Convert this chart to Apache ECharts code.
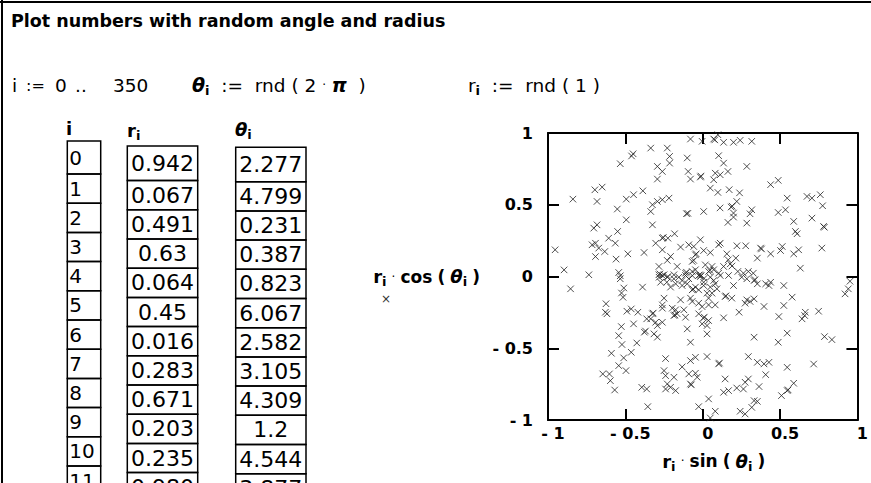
<!DOCTYPE html>
<html><head><meta charset="utf-8">
<script src="https://cdn.jsdelivr.net/npm/echarts/dist/echarts.min.js"></script>
<style>html,body{margin:0;padding:0;background:#fff;overflow:hidden}#c{width:871px;height:483px}</style>
</head><body><div id="c"></div>
<script>
// ---- data ----
const titleText = 'Plot numbers with random angle and radius';
const indexLabels = ['0','1','2','3','4','5','6','7','8','9','10','11'];
const rValues = ['0.942','0.067','0.491','0.63','0.064','0.45','0.016','0.283','0.671','0.203','0.235','0.980'];
const thetaValues = ['2.277','4.799','0.231','0.387','0.823','6.067','2.582','3.105','4.309','1.2','4.544','3.877'];
const tickValues = [-1, -0.5, 0, 0.5, 1];
// x = r_i * sin(theta_i)
const sinVals = [
-0.45,-0.46,-0.533,-0.697,-0.65,-0.839,-0.683,-0.494,-0.447,-0.387,-0.552,-0.494,-0.704,-0.683,-0.55,-0.608,-0.565,-0.715,-0.693,-0.672,-0.633,-0.693,-0.56,-0.484,-0.379,-0.954,-0.896,-0.736,-0.543,-0.533,-0.533,
-0.079,-0.004,0.071,0.078,0.098,0.135,0.199,0.242,0.317,
-0.336,-0.229,-0.214,-0.1,0.103,0.135,0.285,
-0.293,-0.261,-0.214,-0.293,-0.094,-0.079,-0.015,-0.012,0.081,0.113,0.163,0.071,0.049,0.098,0.171,0.238,
-0.325,-0.293,-0.261,-0.218,-0.336,-0.096,-0.105,0.006,0.112,0.184,0.19,0.22,0.199,0.199,0.306,0.317,
-0.325,0.163,0.285,
-0.261,-0.255,-0.304,-0.225,-0.182,-0.261,-0.143,-0.09,-0.058,-0.015,
-0.208,-0.229,-0.047,-0.042,-0.068,-0.058,0.006,0.049,0.103,0.113,0.156,0.221,0.278,0.165,0.214,
-0.283,-0.283,-0.277,-0.25,-0.186,-0.165,-0.111,-0.105,-0.068,-0.047,-0.015,-0.01,0.047,0.017,0.038,0.06,0.071,0.103,0.135,0.189,0.178,0.227,0.263,0.295,0.327,
0.439,0.488,0.546,0.674,0.706,0.76,0.775,0.488,0.535,0.588,0.599,0.61,0.706,0.781,0.786,0.374,0.38,0.353,0.439,0.503,0.514,0.588,0.62,0.77,0.631,
-0.854,-0.51,-0.525,-0.515,-0.389,-0.625,-0.629,-0.619,-0.49,-0.462,-0.419,-0.362,-0.447,-0.526,-0.377,-0.37,-0.543,-0.426,-0.522,-0.462,-0.59,-0.511,-0.543,-0.496,-0.646,-0.603,-0.597,-0.569,-0.394,-0.362,-0.355,
-0.282,-0.261,-0.229,-0.225,-0.186,-0.154,-0.133,-0.111,-0.09,-0.067,-0.026,-0.02,0.0085,0.006,0.049,0.071,0.113,0.167,0.252,0.285,
-0.272,-0.232,-0.208,-0.175,-0.133,-0.1,-0.068,-0.062,-0.047,-0.026,0.006,0.028,0.049,0.081,0.092,0.145,0.15,0.188,0.199,0.285,0.306,0.274,
-0.25,-0.261,-0.261,-0.197,-0.175,-0.143,-0.122,-0.079,-0.068,-0.026,-0.004,0.038,0.06,0.038,0.081,
-0.325,-0.32,-0.336,-0.304,-0.293,-0.261,-0.315,-0.293,-0.186,-0.18,-0.165,-0.111,-0.026,0.010,0.004,-0.004,0.028,0.038,0.135,0.235,-0.1,0.028,-0.079,
-0.24,-0.079,-0.047,0.028,0.103,0.108,0.295,-0.133,-0.25,-0.24,-0.186,-0.09,-0.047,-0.036,-0.229,-0.24,-0.208,-0.175,-0.079,-0.074,0.145,0.135,0.167,0.22,0.263,0.274,0.295,0.038,-0.026,0.049,0.081,0.242,0.274,0.317,
0.332,0.338,0.353,0.407,0.428,0.439,0.524,0.578,0.524,0.396,0.492,0.642,0.659,0.663,0.749,0.332,0.546,0.488,0.787,0.835,0.952,0.941,0.92,0.332,0.353,0.396,0.428,0.407,0.546,0.717,0.364,0.332,0.353,0.509,0.546,0.552,0.588
];
// y = r_i * cos(theta_i)
const cosVals = [
0.855,0.84,0.786,0.604,0.623,0.539,0.523,0.539,0.57,0.597,0.47,0.395,0.337,0.36,0.314,0.267,0.232,0.221,0.232,0.198,0.174,0.139,0.121,0.158,0.167,0.186,0.046,0.012,0.028,0.005,-0.016,
0.958,0.942,0.958,0.952,0.988,0.935,0.935,0.949,0.942,
0.895,0.895,0.837,0.826,0.842,0.79,0.767,
0.767,0.732,0.79,0.679,0.732,0.679,0.693,0.7,0.72,0.709,0.732,0.674,0.616,0.586,0.605,0.583,
0.5,0.523,0.535,0.546,0.453,0.44,0.438,0.453,0.478,0.484,0.49,0.523,0.442,0.414,0.437,0.465,
0.36,0.377,0.372,
0.267,0.272,0.232,0.267,0.298,0.186,0.205,0.221,0.209,0.256,
0.14,0.112,0.151,0.158,0.105,0.112,0.181,0.167,0.221,0.232,0.158,0.214,0.214,0.116,0.128,
0.07,0.012,0.018,0.012,0.012,0.07,0.023,0.03,0.035,0.047,0,0.008,0.043,0.081,0.035,0.07,0.047,0.023,0.07,0.073,0.088,0.035,0.023,0.035,0.023,
0.64,0.67,0.546,0.558,0.546,0.57,0.493,0.446,0.465,0.384,0.314,0.298,0.407,0.349,0.343,0.198,0.192,0.128,0.158,0.181,0.209,0.158,0.186,0.198,0.058,
-0.086,-0.08,-0.115,-0.145,-0.074,-0.19,-0.249,-0.26,-0.242,-0.226,-0.249,-0.295,-0.33,-0.349,-0.388,-0.38,-0.412,-0.463,-0.474,-0.528,-0.535,-0.567,-0.621,-0.656,-0.679,-0.679,-0.726,-0.791,-0.772,-0.784,-0.907,
-0.005,0.007,-0.005,0.0,-0.016,-0.005,-0.028,0.007,-0.016,0.006,0.007,0.012,-0.0136,-0.04,-0.005,-0.028,0.007,0.007,-0.005,-0.016,
-0.04,-0.04,-0.074,-0.051,-0.063,-0.051,-0.093,-0.088,-0.074,-0.093,-0.063,-0.116,-0.074,-0.051,-0.086,-0.14,-0.135,-0.151,-0.063,-0.163,-0.174,-0.186,
-0.151,-0.198,-0.221,-0.221,-0.232,-0.163,-0.232,-0.151,-0.174,-0.186,-0.21,-0.151,-0.116,-0.198,-0.198,
-0.26,-0.255,-0.295,-0.319,-0.342,-0.319,-0.4,-0.423,-0.272,-0.268,-0.26,-0.284,-0.26,-0.283,-0.29,-0.33,-0.342,-0.307,-0.288,-0.249,-0.365,-0.4,-0.458,
-0.572,-0.586,-0.563,-0.558,-0.609,-0.603,-0.558,-0.63,-0.656,-0.691,-0.702,-0.679,-0.674,-0.702,-0.749,-0.784,-0.772,-0.795,-0.749,-0.755,-0.714,-0.807,-0.795,-0.777,-0.784,-0.737,-0.714,-0.853,-0.907,-0.986,-0.939,-0.939,-0.958,-0.912,
-0.028,-0.022,-0.051,-0.051,-0.063,-0.04,-0.063,-0.144,-0.202,-0.209,-0.279,-0.295,-0.272,-0.249,-0.242,-0.156,-0.395,-0.458,-0.419,-0.44,-0.033,-0.086,-0.121,-0.423,-0.598,-0.609,-0.598,-0.684,-0.633,-0.61,-0.767,-0.865,-0.87,-0.83,-0.795,-0.79,-0.744
];

// ---- layout / styles ----
const FONT = 'DejaVu Sans';
const chart = echarts.init(document.getElementById('c'), null, {renderer: 'svg'});
const fmt = v => v < 0 ? '- ' + Math.abs(v) : String(v);

const subStyle = (fs, pad) => ({fontFamily: FONT, fontWeight: 'bold', fontSize: fs, lineHeight: fs, padding: [pad, 0, 0, 0], color: '#000'});
const nameRich = {
  r: {fontFamily: FONT, fontWeight: 'bold', fontSize: 18, color: '#000'},
  s: subStyle(13, 10),
  b: {fontFamily: FONT, fontWeight: 'bold', fontSize: 17, color: '#000'},
  d: {fontFamily: FONT, fontSize: 12, color: '#000'},
  t: {fontFamily: FONT, fontWeight: 'bold', fontStyle: 'italic', fontSize: 18, color: '#000'}
};

const g = [];
// worksheet border
g.push({type: 'line', shape: {x1: 2, y1: 0, x2: 2, y2: 483}, style: {stroke: '#000', lineWidth: 2}});
g.push({type: 'line', shape: {x1: 0, y1: 2, x2: 871, y2: 2}, style: {stroke: '#000', lineWidth: 2}});
// title
g.push({type: 'text', x: 11, y: 21, style: {text: titleText, fontFamily: FONT, fontWeight: 'bold', fontSize: 17.5, fill: '#000', verticalAlign: 'middle'}});
// definitions line
const defRich = {
  n: {fontFamily: FONT, fontSize: 18.5, color: '#000'},
  c: {fontFamily: FONT, fontSize: 16, color: '#000'},
  th: {fontFamily: FONT, fontWeight: 'bold', fontStyle: 'italic', fontSize: 19, color: '#000'},
  pi: {fontFamily: FONT, fontWeight: 'bold', fontStyle: 'italic', fontSize: 19, color: '#000'},
  s: subStyle(13, 11),
  d: {fontFamily: FONT, fontSize: 12, color: '#000'}
};
const defY = 85;
[['{n|i}', 12], ['{c|:=}', 26], ['{n|0}', 55], ['{n|..}', 75], ['{n|350}', 113]].forEach(([t, x]) => {
  g.push({type: 'text', x: x, y: defY, style: {text: t, rich: defRich, verticalAlign: 'middle'}});
});
g.push({type: 'text', x: 192, y: defY, style: {text: '{th|θ}{s|i}{n|  :=  rnd ( 2 }{d|·}{n| }{pi|π}{n|  )}', rich: defRich, verticalAlign: 'middle'}});
g.push({type: 'text', x: 468, y: defY, style: {text: '{n|r}{s|i}{n|  :=  rnd ( 1 )}', rich: defRich, verticalAlign: 'middle'}});

// table headers
const hdrRich = {
  h: {fontFamily: FONT, fontWeight: 'bold', fontSize: 18, color: '#000'},
  t: {fontFamily: FONT, fontWeight: 'bold', fontStyle: 'italic', fontSize: 18, color: '#000'},
  s: subStyle(13, 11)
};
g.push({type: 'text', x: 66, y: 128, style: {text: '{h|i}', rich: hdrRich, verticalAlign: 'middle'}});
g.push({type: 'text', x: 127, y: 130, style: {text: '{h|r}{s|i}', rich: hdrRich, verticalAlign: 'middle'}});
g.push({type: 'text', x: 235, y: 129, style: {text: '{t|θ}{s|i}', rich: hdrRich, verticalAlign: 'middle'}});

// table columns
function column(values, left, width, top, firstH, rowH, align, fs) {
  let y = top;
  values.forEach((v, k) => {
    const h = k === 0 ? firstH : rowH;
    g.push({type: 'rect', shape: {x: left, y: y, width: width, height: h}, style: {fill: 'none', stroke: '#000', lineWidth: 1.5}});
    g.push({type: 'text', x: align === 'left' ? left + 2 : left + width / 2, y: y + h / 2,
      style: {text: v, fontFamily: FONT, fontSize: fs, fill: '#000', align: align, verticalAlign: 'middle'}});
    y += h;
  });
}
column(indexLabels, 67.3, 33.4, 141, 33, 29.2, 'left', 20);
column(rValues, 127.3, 70.4, 146, 34.6, 29.2, 'center', 22);
column(thetaValues, 235.7, 70.3, 147.3, 34.4, 29.2, 'center', 22);

// legend marker under the y-axis expression
g.push({type: 'text', x: 386, y: 299, style: {text: '×', fontFamily: FONT, fontSize: 12, fill: '#333', align: 'center', verticalAlign: 'middle'}});

const axisCommon = {
  type: 'value', min: tickValues[0], max: tickValues[tickValues.length - 1], interval: tickValues[1] - tickValues[0],
  axisLine: {onZero: false, lineStyle: {color: '#000', width: 2}},
  axisTick: {inside: true, length: 11, lineStyle: {color: '#000', width: 2}},
  splitLine: {show: false}
};
const labelStyle = {fontFamily: FONT, fontWeight: 'bold', fontSize: 16, color: '#000', formatter: fmt};

chart.setOption({
  animation: false,
  grid: {left: 548, top: 133, width: 312, height: 287, containLabel: false},
  xAxis: [
    Object.assign({}, axisCommon, {position: 'bottom',
      axisLabel: Object.assign({}, labelStyle, {margin: 5, padding: [0, 0, 0, 10]}),
      name: '{r|r}{s|i} {d|·} {b|sin} {b|(} {t|θ}{s|i} {b|)}', nameLocation: 'middle', nameGap: 32,
      nameTextStyle: {rich: nameRich, fontFamily: FONT, fontSize: 16, padding: [0, 0, 0, 22]}}),
    Object.assign({}, axisCommon, {position: 'top', axisLabel: {show: false}})
  ],
  yAxis: [
    Object.assign({}, axisCommon, {position: 'left',
      axisLabel: Object.assign({}, labelStyle, {margin: 15}),
      name: '{r|r}{s|i} {d|·} {b|cos} {b|(} {t|θ}{s|i} {b|)}', nameLocation: 'middle', nameRotate: 0, nameGap: 68,
      nameTextStyle: {rich: nameRich, fontFamily: FONT, fontSize: 16}}),
    Object.assign({}, axisCommon, {position: 'right', axisLabel: {show: false}})
  ],
  series: [{
    type: 'scatter', xAxisIndex: 0, yAxisIndex: 0, silent: true,
    symbol: 'path://M0,0L10,10M10,0L0,10', symbolSize: 6.5,
    itemStyle: {color: 'transparent', borderColor: '#222', borderWidth: 1},
    data: sinVals.map((x, i) => [x, cosVals[i]])
  }],
  graphic: g
});
</script>
</body></html>
